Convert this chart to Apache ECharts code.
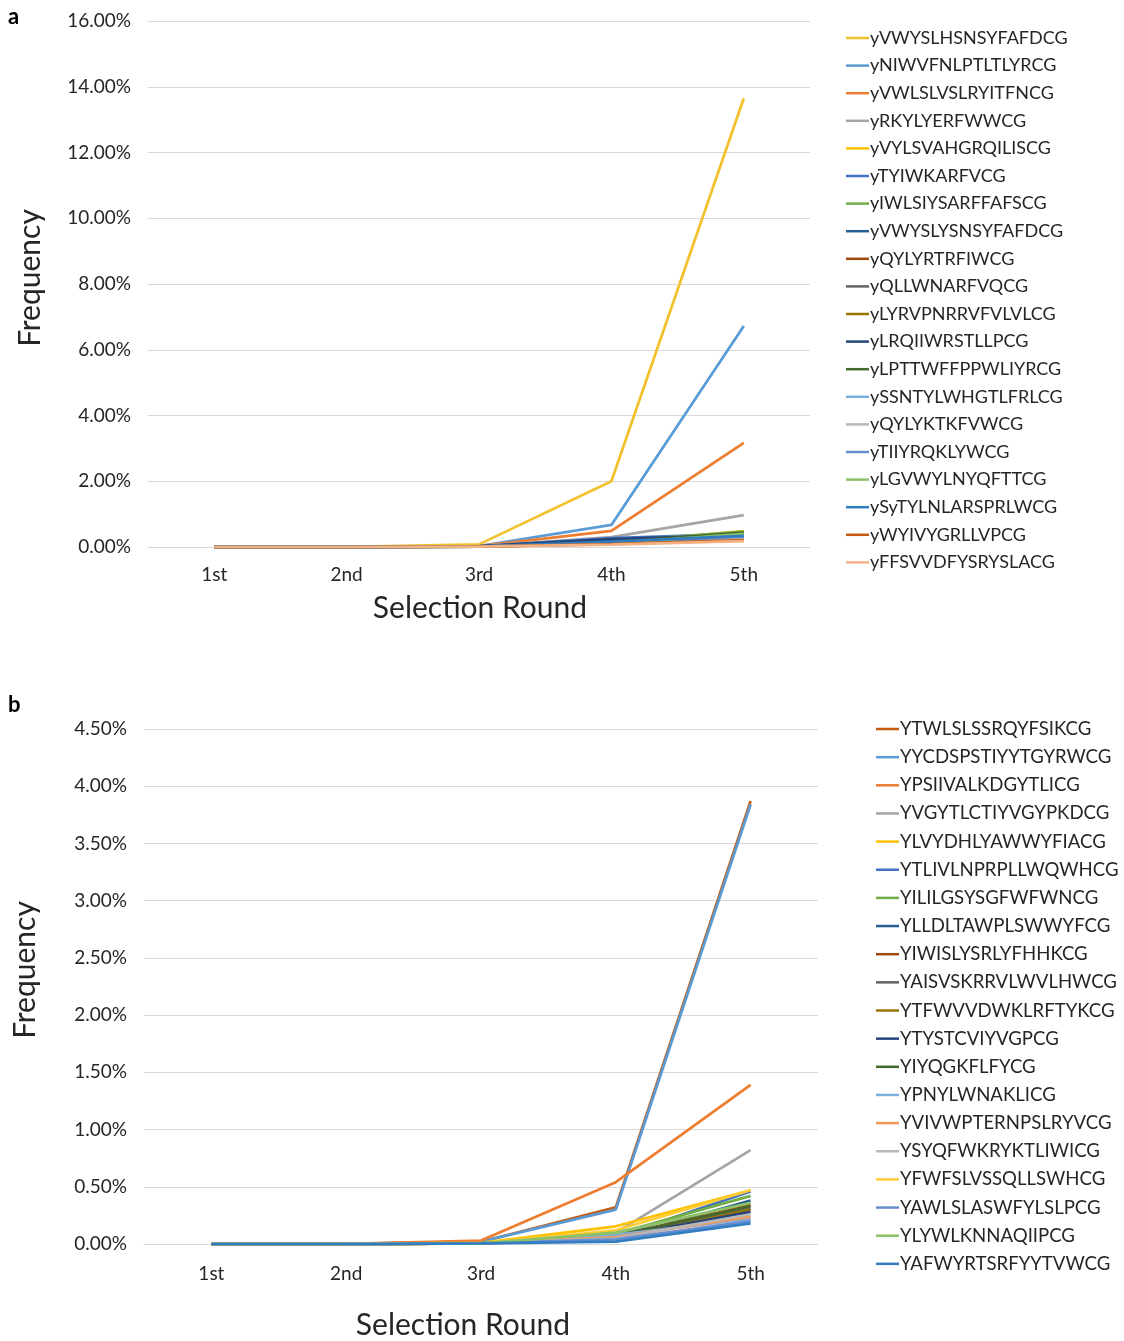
<!DOCTYPE html>
<html>
<head>
<meta charset="utf-8">
<script src="https://cdn.jsdelivr.net/npm/echarts@6/dist/echarts.min.js"></script>
<style>
html,body{margin:0;padding:0;background:#fff;}
#c{width:1124px;height:1341px;}
</style>
</head>
<body>
<div id="c"></div>
<script>
const rounds = ['1st','2nd','3rd','4th','5th'];
const yTicksA = {min:0, max:16, interval:2};
const yTicksB = {min:0, max:4.5, interval:0.5};

const namesA = ['yVWYSLHSNSYFAFDCG','yNIWVFNLPTLTLYRCG','yVWLSLVSLRYITFNCG','yRKYLYERFWWCG','yVYLSVAHGRQILISCG','yTYIWKARFVCG','yIWLSIYSARFFAFSCG','yVWYSLYSNSYFAFDCG','yQYLYRTRFIWCG','yQLLWNARFVQCG','yLYRVPNRRVFVLVLCG','yLRQIIWRSTLLPCG','yLPTTWFFPPWLIYRCG','ySSNTYLWHGTLFRLCG','yQYLYKTKFVWCG','yTIIYRQKLYWCG','yLGVWYLNYQFTTCG','ySyTYLNLARSPRLWCG','yWYIVYGRLLVPCG','yFFSVVDFYSRYSLACG'];
// values in percent
const valuesA = [
 [0,0.002,0.08,2.00,13.65],
 [0,0.001,0.03,0.67,6.72],
 [0,0.001,0.03,0.49,3.17],
 [0,0.001,0.02,0.30,0.97],
 [0,0,0.02,0.12,0.48],
 [0,0,0.02,0.27,0.40],
 [0,0,0.02,0.17,0.47],
 [0,0,0.02,0.22,0.38],
 [0,0,0.01,0.12,0.28],
 [0,0,0.01,0.15,0.33],
 [0,0,0.01,0.12,0.35],
 [0,0,0.02,0.24,0.36],
 [0,0,0.01,0.14,0.44],
 [0,0,0.01,0.12,0.30],
 [0,0,0.01,0.10,0.25],
 [0,0,0.01,0.10,0.32],
 [0,0,0.01,0.10,0.40],
 [0,0,0.01,0.16,0.34],
 [0,0,0.01,0.09,0.21],
 [0,0,0.01,0.07,0.18]
];
const colorsA = ['#F2C12E','#5B9BD5','#ED7D31','#A5A5A5','#FFC000','#4472C4','#70AD47','#255E91','#9E480E','#636363','#997300','#264478','#43682B','#7CAFDD','#B7B7B7','#698ED0','#8CC168','#327DC2','#C55A11','#F4B183'];

const namesB = ['YTWLSLSSRQYFSIKCG','YYCDSPSTIYYTGYRWCG','YPSIIVALKDGYTLICG','YVGYTLCTIYVGYPKDCG','YLVYDHLYAWWYFIACG','YTLIVLNPRPLLWQWHCG','YILILGSYSGFWFWNCG','YLLDLTAWPLSWWYFCG','YIWISLYSRLYFHHKCG','YAISVSKRRVLWVLHWCG','YTFWVVDWKLRFTYKCG','YTYSTCVIYVGPCG','YIYQGKFLFYCG','YPNYLWNAKLICG','YVIVWPTERNPSLRYVCG','YSYQFWKRYKTLIWICG','YFWFSLVSSQLLSWHCG','YAWLSLASWFYLSLPCG','YLYWLKNNAQIIPCG','YAFWYRTSRFYYTVWCG'];
const valuesB = [
 [0,0.001,0.02,0.32,3.87],
 [0,0.001,0.02,0.30,3.84],
 [0,0.002,0.03,0.54,1.39],
 [0,0.001,0.01,0.10,0.82],
 [0,0.001,0.01,0.155,0.47],
 [0,0,0.005,0.06,0.46],
 [0,0,0.005,0.09,0.42],
 [0,0,0.005,0.05,0.38],
 [0,0,0.005,0.07,0.34],
 [0,0,0.005,0.06,0.31],
 [0,0,0.005,0.05,0.30],
 [0,0,0.005,0.06,0.28],
 [0,0,0.005,0.07,0.33],
 [0,0,0.005,0.08,0.22],
 [0,0,0.005,0.06,0.24],
 [0,0,0.005,0.05,0.26],
 [0,0,0.005,0.12,0.47],
 [0,0,0.005,0.04,0.20],
 [0,0,0.005,0.10,0.36],
 [0,0,0.005,0.02,0.18]
];
const colorsB = ['#C55A11','#5B9BD5','#ED7D31','#A5A5A5','#FFC000','#4472C4','#70AD47','#255E91','#9E480E','#636363','#997300','#264478','#43682B','#7CAFDD','#F1975A','#B7B7B7','#FFCD33','#698ED0','#8CC168','#327DC2'];

const FONT = 'Lato, "Open Sans", sans-serif';
const TXT = '#262626';

function yAxis(idx, t) {
  return {
    type:'value', gridIndex:idx, min:t.min, max:t.max, interval:t.interval,
    axisLine:{show:false}, axisTick:{show:false},
    splitLine:{lineStyle:{color:'#D9D9D9', width:1}},
    axisLabel:{fontFamily:FONT, fontSize:19, color:TXT, margin:17,
      formatter:v=>v.toFixed(2)+'%'}
  };
}
function xAxis(idx, m) {
  return {
    type:'category', gridIndex:idx, data:rounds, boundaryGap:true,
    axisLine:{show:true, lineStyle:{color:'#D9D9D9', width:1}},
    axisTick:{show:false},
    axisLabel:{fontFamily:FONT, fontSize:19, color:TXT, margin:m}
  };
}
const series = [];
namesA.forEach((n,i)=>series.push({name:n, type:'line', xAxisIndex:0, yAxisIndex:0, data:valuesA[i],
  showSymbol:false, symbol:'none', lineStyle:{width:2.75, color:colorsA[i]}, itemStyle:{color:colorsA[i]}, z:2+i*0.01, animation:false}));
namesB.forEach((n,i)=>series.push({name:n, type:'line', xAxisIndex:1, yAxisIndex:1, data:valuesB[i],
  showSymbol:false, symbol:'none', lineStyle:{width:2.75, color:colorsB[i]}, itemStyle:{color:colorsB[i]}, z:2+i*0.01, animation:false}));

const legendCommon = {orient:'vertical', icon:'rect', itemWidth:23, itemHeight:2.5, padding:0,
  textStyle:{fontFamily:FONT, fontSize:18, color:TXT, lineHeight:20, padding:[0,0,0,-4]}};

const chart = echarts.init(document.getElementById('c'), null, {renderer:'canvas'});
chart.setOption({
  animation:false,
  backgroundColor:'#fff',
  grid:[
    {left:148, top:21, width:662, height:526},
    {left:144, top:729, width:674, height:515}
  ],
  xAxis:[xAxis(0,18), xAxis(1,20)],
  yAxis:[yAxis(0,yTicksA), yAxis(1,yTicksB)],
  legend:[
    Object.assign({}, legendCommon, {data:namesA, left:846, top:28, itemGap:7.6}),
    Object.assign({}, legendCommon, {data:namesB, left:876, top:719, itemGap:8.15,
      textStyle:Object.assign({}, legendCommon.textStyle, {fontSize:18.6})})
  ],
  series:series,
  graphic:[
    {type:'text', left:8, top:6, style:{text:'a', font:'bold 22px '+FONT, fill:'#000'}},
    {type:'text', left:8, top:694, style:{text:'b', font:'bold 22px '+FONT, fill:'#000'}},
    {type:'text', x:30, y:278, rotation:Math.PI/2, style:{text:'Frequency', font:'30px '+FONT, fill:TXT, align:'center', verticalAlign:'middle'}},
    {type:'text', x:25, y:970, rotation:Math.PI/2, style:{text:'Frequency', font:'30px '+FONT, fill:TXT, align:'center', verticalAlign:'middle'}},
    {type:'text', x:480, y:608, style:{text:'Selection Round', font:'30px '+FONT, fill:TXT, align:'center', verticalAlign:'middle'}},
    {type:'text', x:463, y:1325, style:{text:'Selection Round', font:'30px '+FONT, fill:TXT, align:'center', verticalAlign:'middle'}}
  ]
});
</script>
</body>
</html>
